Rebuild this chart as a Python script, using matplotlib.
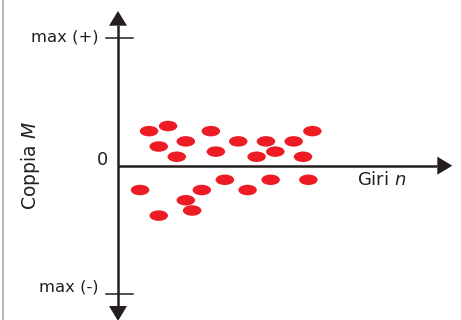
import matplotlib.pyplot as plt
from matplotlib.patches import Ellipse

# data: giri n (arbitrary units, 0..10) and coppia M (-1 = max(-), +1 = max(+))
giri = [0.93, 1.50, 2.78, 1.22, 2.03, 2.93, 1.76, 3.60, 4.43, 5.26, 5.82, 4.15, 4.71, 5.54,
        0.66, 2.51, 3.20, 2.03, 2.22, 1.22, 3.88, 4.57, 5.70]
coppia = [0.27, 0.31, 0.27, 0.15, 0.19, 0.11, 0.07, 0.19, 0.19, 0.19, 0.27, 0.07, 0.11, 0.07,
          -0.19, -0.19, -0.11, -0.27, -0.35, -0.39, -0.19, -0.11, -0.11]
tick_labels = ['max (+)', '0', 'max (-)']

# pixel scale of the drawing
PX_N = 33.4   # px per unit of n
PX_M = 128.0  # px per unit of M
W, H = 461, 320
X0, Y0 = 118, 165.7  # origin in pixels

def px_n(p):
    return p / PX_N

def px_m(p):
    return p / PX_M

fig = plt.figure(figsize=(W / 100, H / 100), dpi=100)
ax = fig.add_axes([0, 0, 1, 1])
ax.set_xlim(-X0 / PX_N, (W - X0) / PX_N)
ax.set_ylim((Y0 - H) / PX_M, Y0 / PX_M)
ax.axis('off')

ink = '#231f20'
red = '#ed1c24'
plt.rcParams['font.family'] = ['DejaVu Sans']

# left border
ax.axvline(px_n(2.7 - X0), color='#a8a8a8', lw=1.2)

# vertical axis with arrows
ax.plot([0, 0], [px_m(Y0 - 306), px_m(Y0 - 25)], color=ink, lw=1.8, solid_capstyle='butt')
ax.fill([-px_n(9), px_n(9), 0], [px_m(Y0 - 25.7)] * 2 + [px_m(Y0 - 11)], color=ink, lw=0)
ax.fill([-px_n(9), px_n(9), 0], [px_m(Y0 - 306)] * 2 + [px_m(Y0 - 321)], color=ink, lw=0)

# horizontal axis with arrow
ax.plot([0, px_n(437.3 - X0)], [0, 0], color=ink, lw=1.8, solid_capstyle='butt')
ax.fill([px_n(437.3 - X0)] * 2 + [px_n(452.3 - X0)], [-px_m(9), px_m(9), 0], color=ink, lw=0)

# max ticks
for m in (1, -1):
    ax.plot([px_n(-12), px_n(14.7)], [m, m], color=ink, lw=1.1)

fs = 11.8
ax.text(px_n(99 - X0), 1 + px_m(1.2), tick_labels[0], ha='right', va='center', fontsize=fs, color=ink)
ax.text(px_n(108.5 - X0), px_m(5.5), tick_labels[1], ha='right', va='center', fontsize=12.8, color=ink)
ax.text(px_n(99 - X0), -1 + px_m(6.5), tick_labels[2], ha='right', va='center', fontsize=fs, color=ink)

ax.text(px_n(356.7 - X0), px_m(Y0 - 180), 'Giri $\\mathit{n}$', ha='left', va='center', fontsize=13, color=ink)
ax.text(px_n(30 - X0), px_m(Y0 - 166), 'Coppia $\\mathit{M}$', ha='center', va='center',
        rotation=90, fontsize=13.5, color=ink)

# red ellipses
for n, m in zip(giri, coppia):
    ax.add_patch(Ellipse((n, m), px_n(18.5), px_m(10.5), color=red, lw=0))

fig.savefig('out.png', dpi=100)
